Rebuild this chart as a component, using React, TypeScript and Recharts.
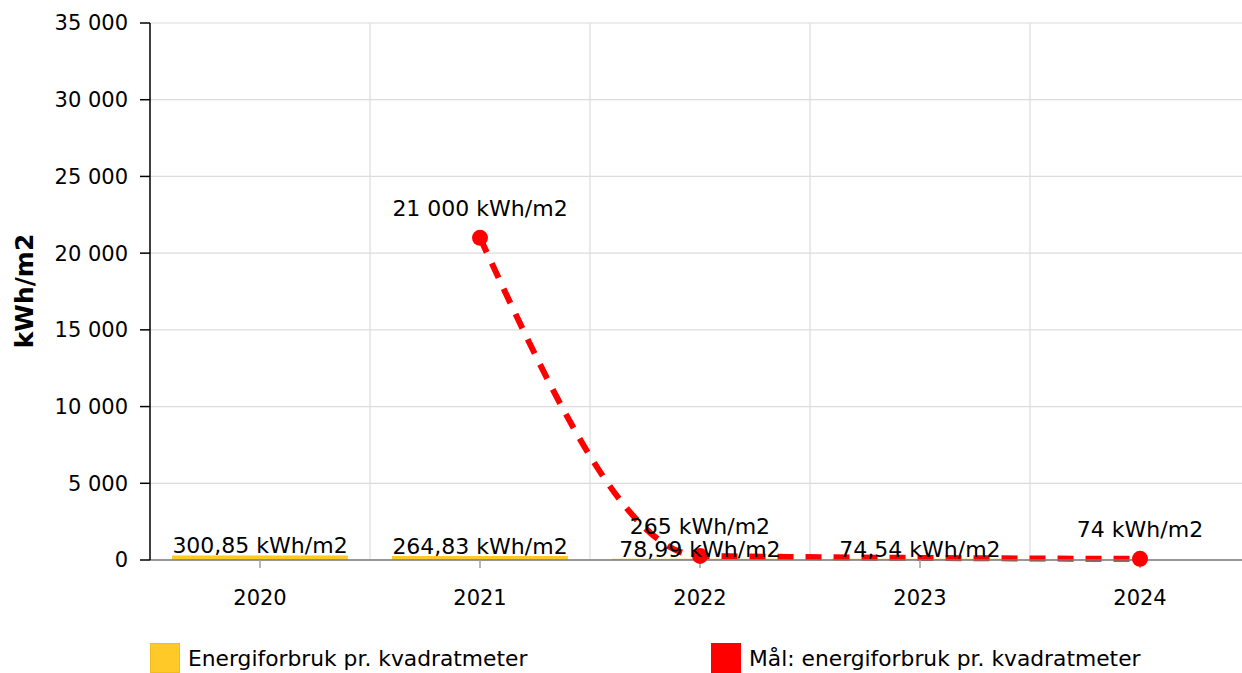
import React from "react";
import {
  ComposedChart,
  Bar,
  Line,
  XAxis,
  YAxis,
  CartesianGrid,
  Legend,
  LabelList,
  Label,
} from "recharts";

const years = ["2020", "2021", "2022", "2023", "2024"];
const usage = [300.85, 264.83, 78.99, 74.54, null];
const target = [null, 21000, 265, null, 74];
const yTicks = [0, 5000, 10000, 15000, 20000, 25000, 30000, 35000];

const usageName = "Energiforbruk pr. kvadratmeter";
const targetName = "Mål: energiforbruk pr. kvadratmeter";

const data = years.map((year, i) => ({
  year,
  usage: usage[i],
  target: target[i],
}));

function fmt(v: number) {
  const hasDec = Math.round(v * 100) % 100 !== 0;
  const [int, dec] = v.toFixed(hasDec ? 2 : 0).split(".");
  const grouped = int.replace(/\B(?=(\d{3})+(?!\d))/g, " ");
  return dec ? `${grouped},${dec}` : grouped;
}

const kwh = (v: any) => (v == null ? "" : `${fmt(Number(v))} kWh/m2`);

const YELLOW = "#ffc928";
const RED = "#ff0000";

function LegendBox() {
  const item = (left: number, color: string, border: string, text: string) => (
    <div
      style={{
        position: "absolute",
        left,
        top: 0,
        display: "flex",
        alignItems: "center",
        height: 30,
      }}
    >
      <span
        style={{
          display: "inline-block",
          width: 28,
          height: 28,
          background: color,
          border: `1px solid ${border}`,
        }}
      />
      <span style={{ marginLeft: 8, fontSize: 21.8, color: "#000" }}>{text}</span>
    </div>
  );
  return (
    <div style={{ position: "relative", height: 30, width: 1242 }}>
      {item(150, YELLOW, "#f2bb20", usageName)}
      {item(711, RED, "#f00", targetName)}
    </div>
  );
}

const RedDot = (props: any) => {
  const { cx, cy } = props;
  if (cx == null || cy == null || Number.isNaN(cy)) return <g key={props.key} />;
  return <circle key={props.key} cx={cx} cy={cy} r={8} fill={RED} />;
};

export default function App() {
  return (
    <div
      style={{
        position: "absolute",
        left: 0,
        top: 0,
        width: 1242,
        height: 673,
        overflow: "hidden",
        fontFamily: "'DejaVu Sans', Verdana, sans-serif",
        background: "#fff",
      }}
    >
      <ComposedChart
        width={1250}
        height={673}
        data={data}
        margin={{ top: 23, right: 0, bottom: 0, left: 0 }}
        barCategoryGap="10%"
      >
        <CartesianGrid
          stroke="#dcdcdc"
          strokeWidth={1.2}
          verticalCoordinatesGenerator={({ offset }: any) =>
            [1, 2, 3, 4].map((i) => offset.left + (i * offset.width) / 5)
          }
        />
        <XAxis
          dataKey="year"
          height={83}
          tickSize={8}
          tickMargin={22}
          axisLine={{ stroke: "#7a7a7a", strokeWidth: 1.5 }}
          tickLine={{ stroke: "#a0a0a0", strokeWidth: 1.5 }}
          tick={{ fill: "#000", fontSize: 21 }}
        />
        <YAxis
          width={150}
          domain={[0, 35000]}
          ticks={yTicks}
          interval={0}
          tickFormatter={(v: number) => fmt(v)}
          tickSize={10}
          tickMargin={12}
          axisLine={{ stroke: "#000", strokeWidth: 1.5 }}
          tickLine={{ stroke: "#000", strokeWidth: 1.5 }}
          tick={{ fill: "#000", fontSize: 21 }}
        >
          <Label
            content={() => (
              <text
                x={24}
                y={291}
                transform="rotate(-90, 24, 291)"
                textAnchor="middle"
                dominantBaseline="central"
                fontWeight="bold"
                fontSize={25}
                fill="#000"
              >
                kWh/m2
              </text>
            )}
          />
        </YAxis>
        <Legend
          verticalAlign="bottom"
          wrapperStyle={{ left: 0, top: 643, width: 1242, height: 30 }}
          content={() => <LegendBox />}
        />
        <Bar dataKey="usage" name={usageName} fill={YELLOW} isAnimationActive={false}>
          <LabelList
            dataKey="usage"
            position="top"
            offset={2}
            formatter={kwh}
            fill="#000"
            fontSize={22}
          />
        </Bar>
        <Line
          dataKey="target"
          name={targetName}
          type="monotone"
          stroke={RED}
          strokeWidth={6}
          strokeDasharray="16 12"
          connectNulls
          dot={RedDot}
          activeDot={false}
          isAnimationActive={false}
        >
          <LabelList
            dataKey="target"
            position="top"
            offset={22}
            formatter={kwh}
            fill="#000"
            fontSize={22}
          />
        </Line>
      </ComposedChart>
    </div>
  );
}
